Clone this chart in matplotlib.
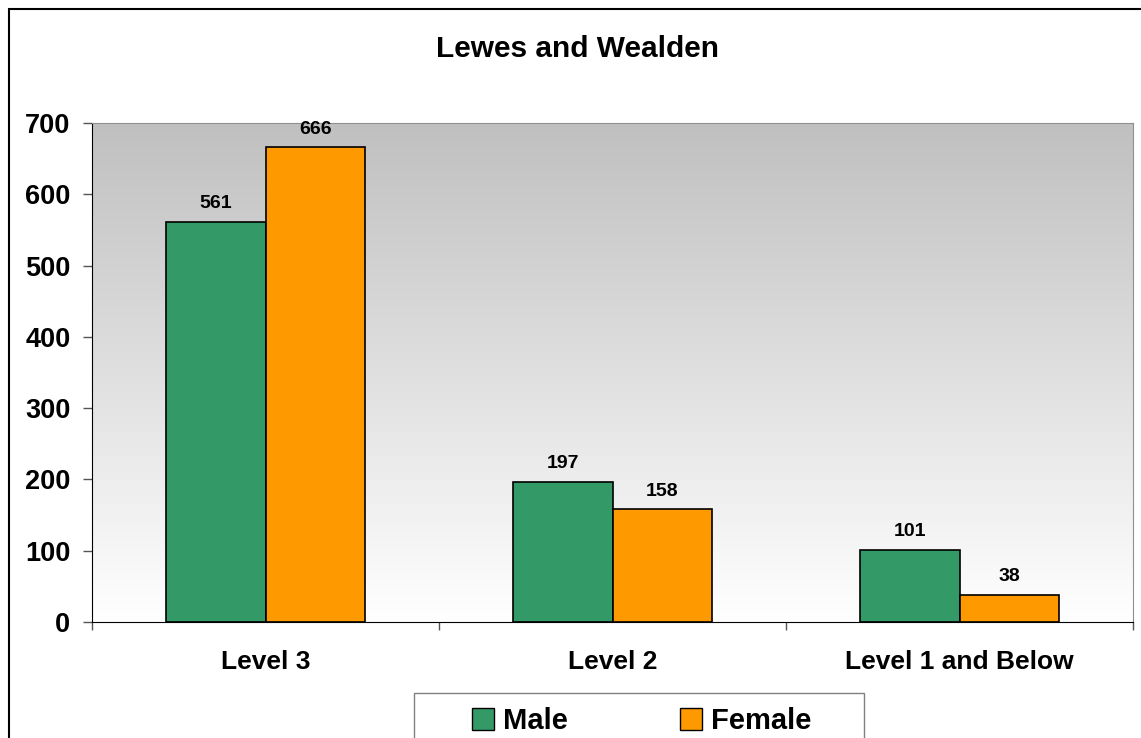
import numpy as np
import matplotlib
matplotlib.use("Agg")
import matplotlib.pyplot as plt
from matplotlib.patches import Rectangle, Patch

plt.rcParams['font.family'] = ['Liberation Sans', 'DejaVu Sans']
plt.rcParams['font.weight'] = 'bold'

# Данные
categories = ['Level 3', 'Level 2', 'Level 1 and Below']
male = [561, 197, 101]
female = [666, 158, 38]
series_names = ['Male', 'Female']
yticks = [0, 100, 200, 300, 400, 500, 600, 700]

W, H = 1141, 738
fig = plt.figure(figsize=(W / 100, H / 100), dpi=100)
ax = fig.add_axes([92 / W, 1 - 622 / H, (1133 - 92) / W, (622 - 123) / H])

green = '#339966'
orange = '#FF9900'

# Градиентный фон
grad = np.linspace(0, 1, 256).reshape(-1, 1)
ax.imshow(grad, cmap=matplotlib.colors.LinearSegmentedColormap.from_list('g', ['#ffffff', '#c0c0c0']),
          extent=[0, 3, 0, 700], origin='lower', aspect='auto', zorder=0)

x = np.arange(len(categories)) + 0.5
w = 1 / 3.5
b1 = ax.bar(x - w / 2, male, w, color=green, edgecolor='black', linewidth=1.2, zorder=2)
b2 = ax.bar(x + w / 2, female, w, color=orange, edgecolor='black', linewidth=1.2, zorder=2)

for bars, vals in [(b1, male), (b2, female)]:
    for r, v in zip(bars, vals):
        ax.annotate(str(v), (r.get_x() + r.get_width() / 2, v), xytext=(0, 7),
                    textcoords='offset points', ha='center', va='bottom',
                    fontsize=14, fontweight='bold')

ax.set_xlim(0, 3)
ax.set_ylim(0, 700)
ax.set_yticks(yticks)
ax.set_yticklabels([str(t) for t in yticks], fontsize=19.5, fontweight='bold')
ax.tick_params(axis='y', length=6.5, width=1, pad=9, color='#555555')

ax.set_xticks([0, 1, 2, 3])
ax.set_xticklabels([])
ax.tick_params(axis='x', which='major', length=6, width=1, color='#555555')
ax.set_xticks(x, minor=True)
ax.set_xticklabels(categories, minor=True, fontsize=19, fontweight='bold')
ax.tick_params(axis='x', which='minor', length=0, pad=20)

ax.spines['left'].set_color('black')
ax.spines['bottom'].set_color('black')
ax.spines['top'].set_color('#909090')
ax.spines['right'].set_color('#909090')

fig.text(577 / W, 1 - 49 / H, 'Lewes and Wealden', ha='center', va='center',
         fontsize=21.5, fontweight='bold')

# Рамка вокруг всего графика
fig.patches.append(Rectangle((9 / W, -0.05), 1.2, 1 - 9 / H + 0.05, transform=fig.transFigure,
                             fill=False, edgecolor='black', linewidth=1.5))

# Легенда
fig.patches.append(Rectangle((414 / W, -0.05), (864 - 414) / W, 1 - 693 / H + 0.05,
                             transform=fig.transFigure, facecolor='white',
                             edgecolor='#808080', linewidth=1))
handles = [Patch(facecolor=green, edgecolor='black'), Patch(facecolor=orange, edgecolor='black')]
fig.legend(handles, series_names, loc='center left', bbox_to_anchor=(449 / W, 1 - 721 / H),
           ncol=2, frameon=False, handlelength=0.75, handleheight=0.75,
           handletextpad=0.3, columnspacing=3.85, borderpad=0.3,
           prop={'weight': 'bold', 'size': 21})

fig.savefig('out.png', dpi=100)
